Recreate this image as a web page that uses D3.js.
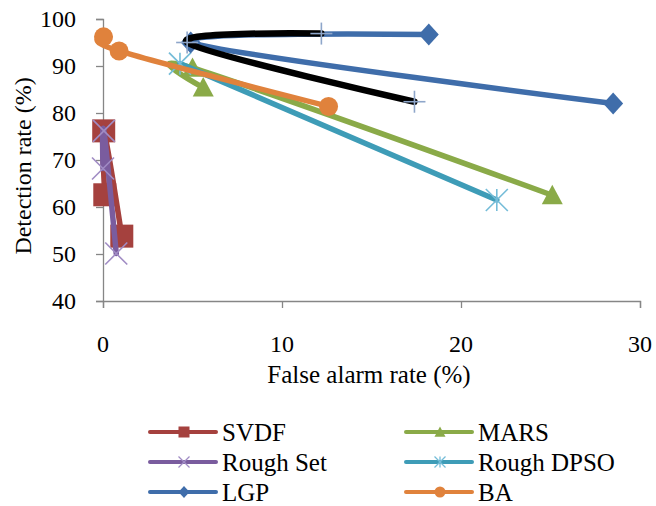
<!DOCTYPE html>
<html>
<head>
<meta charset="utf-8">
<script src="https://cdn.jsdelivr.net/npm/d3@7"></script>
<style>
  html, body { margin: 0; padding: 0; background: #fff; }
  svg { display: block; }
</style>
</head>
<body>
<svg id="chart" width="656" height="506"></svg>
<script>
// ---- data ----
const xTicks = [0, 10, 20, 30];
const yTicks = [40, 50, 60, 70, 80, 90, 100];
const xTitle = "False alarm rate (%)";
const yTitle = "Detection rate (%)";

const seriesNames = ["SVDF", "MARS", "Rough Set", "Rough DPSO", "LGP", "BA", ""];
const svdfX = [0.1, 0.04, 1.05];       const svdfY = [62.6, 76.2, 53.8];
const marsX = [5.6, 5.0, 25.1];        const marsY = [85.4, 89.6, 62.5];
const roughSetX = [0.0, 0.05, 0.74];   const roughSetY = [68.2, 76.2, 50.1];
const dpsoX = [4.3, 22.0];             const dpsoY = [90.5, 61.5];
const lgpX = [18.2, 4.9, 28.5];        const lgpY = [96.7, 95.0, 82.0];
const baX = [0.03, 0.9, 12.6];         const baY = [96.2, 93.2, 81.4];
const otherX = [12.2, 4.7, 17.4];      const otherY = [96.9, 95.0, 82.4];

const FONT = "Liberation Serif";

// ---- styles ----
const styles = [
  { line: "#A5413E", marker: "square",   fill: "#A5413E", stroke: "none" },
  { line: "#8AAA48", marker: "triangle", fill: "#8AAA48", stroke: "none" },
  { line: "#7A5C9E", marker: "x",        fill: "none",    stroke: "#A08CC4" },
  { line: "#3E9CB7", marker: "asterisk", fill: "none",    stroke: "#74BCD8" },
  { line: "#3F6DAA", marker: "diamond",  fill: "#3F6DAA", stroke: "none" },
  { line: "#E0823C", marker: "circle",   fill: "#E0823C", stroke: "none" },
  { line: "#000000", marker: "plus",     fill: "none",    stroke: "#8EA6CA" }
];
const xs = [svdfX, marsX, roughSetX, dpsoX, lgpX, baX, otherX];
const ys = [svdfY, marsY, roughSetY, dpsoY, lgpY, baY, otherY];
const series = seriesNames.map((name, i) => ({
  name, style: styles[i],
  points: xs[i].map((x, j) => ({ x, y: ys[i][j] }))
}));

const svg = d3.select("#chart");
const x = d3.scaleLinear().domain([0, 30]).range([103, 640]);
const y = d3.scaleLinear().domain([40, 100]).range([301, 19]);

// ---- axes ----
const axisColor = "#868686";
const gx = svg.append("g").attr("transform", `translate(0,${y(40)})`)
  .call(d3.axisBottom(x).tickValues(xTicks).tickSize(7).tickFormat(""));
const gy = svg.append("g").attr("transform", `translate(${x(0)},0)`)
  .call(d3.axisLeft(y).tickValues(yTicks).tickSize(7).tickFormat(""));
[gx, gy].forEach(g => {
  g.select(".domain").attr("stroke", axisColor).attr("stroke-width", 1.3);
  g.selectAll(".tick line").attr("stroke", axisColor).attr("stroke-width", 1.3);
});
function txt(sel) { return sel.attr("font-family", FONT).attr("fill", "#000"); }
txt(svg.append("g").selectAll("text").data(xTicks).join("text")
  .attr("x", d => x(d)).attr("y", 352)
  .attr("text-anchor", "middle").attr("font-size", 24).text(d => d));
txt(svg.append("g").selectAll("text").data(yTicks).join("text")
  .attr("x", 76).attr("y", d => y(d) + 8)
  .attr("text-anchor", "end").attr("font-size", 24).text(d => d));
txt(svg.append("text").attr("x", 369).attr("y", 383)
  .attr("text-anchor", "middle").attr("font-size", 25).text(xTitle));
txt(svg.append("text").attr("transform", "translate(31,166) rotate(-90)")
  .attr("text-anchor", "middle").attr("font-size", 24).text(yTitle));

// ---- markers ----
function drawMarker(g, type, cx, cy, s, st, sw) {
  const h = s / 2;
  if (type === "square") {
    g.append("rect").attr("x", cx - h).attr("y", cy - h).attr("width", s).attr("height", s).attr("fill", st.fill);
  } else if (type === "circle") {
    g.append("circle").attr("cx", cx).attr("cy", cy).attr("r", h).attr("fill", st.fill);
  } else if (type === "triangle") {
    g.append("path").attr("d", `M${cx},${cy - h}L${cx + h},${cy + h * 0.85}L${cx - h},${cy + h * 0.85}Z`).attr("fill", st.fill);
  } else if (type === "diamond") {
    g.append("path").attr("d", `M${cx},${cy - h * 1.1}L${cx + h},${cy}L${cx},${cy + h * 1.1}L${cx - h},${cy}Z`).attr("fill", st.fill);
  } else {
    const segs = [];
    if (type === "x" || type === "asterisk") {
      segs.push([cx - h, cy - h, cx + h, cy + h], [cx - h, cy + h, cx + h, cy - h]);
    }
    if (type === "asterisk") segs.push([cx, cy - h, cx, cy + h]);
    if (type === "plus") segs.push([cx - h, cy, cx + h, cy], [cx, cy - h, cx, cy + h]);
    segs.forEach(sg => g.append("line")
      .attr("x1", sg[0]).attr("y1", sg[1]).attr("x2", sg[2]).attr("y2", sg[3])
      .attr("stroke", st.stroke).attr("stroke-width", sw));
  }
}
const markerSize = { square: 23, circle: 19, triangle: 21, diamond: 20, x: 22, asterisk: 22, plus: 22 };

// ---- series ----
const line = d3.line().x(d => x(d.x)).y(d => y(d.y)).curve(d3.curveCardinal.tension(0));
const plot = svg.append("g");
series.forEach(s => {
  const g = plot.append("g");
  g.append("path").datum(s.points).attr("d", line)
    .attr("fill", "none").attr("stroke", s.style.line)
    .attr("stroke-width", s.style.marker === "plus" ? 6.5 : 5.5)
    .attr("stroke-linejoin", "round").attr("stroke-linecap", "round");
  s.points.forEach(p => drawMarker(g, s.style.marker, x(p.x), y(p.y), markerSize[s.style.marker], s.style, 1.6));
});

// ---- legend ----
const legendItems = series.filter(s => s.name !== "");
const legend = svg.append("g");
legendItems.forEach((s, i) => {
  const col = i % 2, row = Math.floor(i / 2);
  const lx = col === 0 ? 150 : 406;
  const ly = 432 + row * 30;
  const g = legend.append("g");
  g.append("line").attr("x1", lx).attr("x2", lx + 66).attr("y1", ly).attr("y2", ly)
    .attr("stroke", s.style.line).attr("stroke-width", 4).attr("stroke-linecap", "round");
  drawMarker(g, s.style.marker, lx + 34, ly, 11, s.style, 1.3);
  txt(g.append("text").attr("x", lx + 72).attr("y", ly + 9).attr("font-size", 25).text(s.name));
});
</script>
</body>
</html>
